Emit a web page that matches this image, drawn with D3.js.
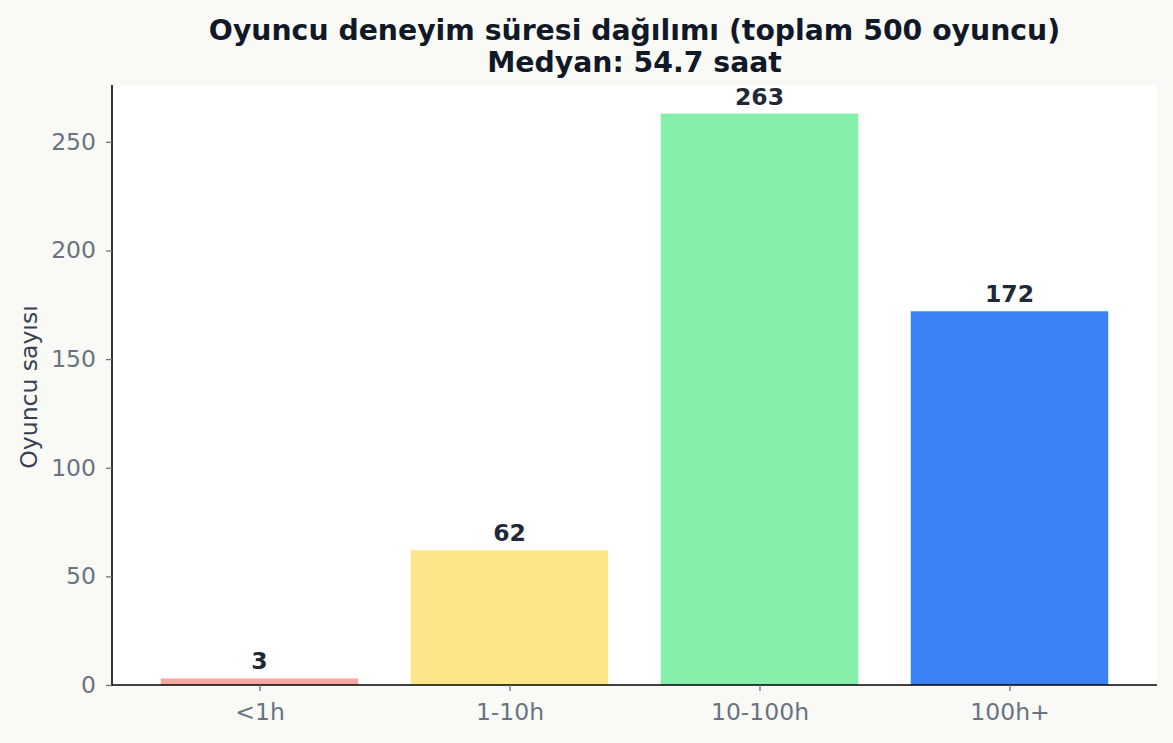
<!DOCTYPE html>
<html>
<head>
<meta charset="utf-8">
<script src="https://cdn.jsdelivr.net/npm/d3@7"></script>
<style>
  html, body { margin: 0; padding: 0; background: #f9faf5; }
  svg { display: block; }
</style>
</head>
<body>
<script>
const categories = ["<1h", "1-10h", "10-100h", "100h+"];
const counts = [3, 62, 263, 172];
const colors = ["#f7a6a1", "#fde68a", "#86efac", "#3b82f6"];
const yTicks = [0, 50, 100, 150, 200, 250];
const titleLines = ["Oyuncu deneyim süresi dağılımı (toplam 500 oyuncu)", "Medyan: 54.7 saat"];
const yLabel = "Oyuncu sayısı";

const W = 1173, H = 743;
const margin = {left: 112, right: 16, top: 85, bottom: 58};
const font = "'DejaVu Sans', sans-serif";

const svg = d3.select("body").append("svg").attr("width", W).attr("height", H);
svg.append("rect").attr("width", W).attr("height", H).attr("fill", "#f9faf5");

const x0 = margin.left, x1 = W - margin.right, y0 = H - margin.bottom, y1 = margin.top;
const x = d3.scaleLinear().domain([-0.59, categories.length - 1 + 0.59]).range([x0, x1]);
const y = d3.scaleLinear().domain([0, d3.max(counts) * 1.05]).range([y0, y1]);

svg.append("rect").attr("x", x0).attr("y", y1).attr("width", x1 - x0).attr("height", y0 - y1).attr("fill", "#ffffff");

const bw = 0.79;
svg.selectAll("rect.bar").data(counts).enter().append("rect")
  .attr("class", "bar")
  .attr("x", (d, i) => x(i - bw / 2))
  .attr("width", (d, i) => x(bw) - x(0))
  .attr("y", d => y(d))
  .attr("height", d => y(0) - y(d))
  .attr("fill", (d, i) => colors[i]);

svg.selectAll("text.val").data(counts).enter().append("text")
  .attr("class", "val")
  .attr("x", (d, i) => x(i))
  .attr("y", d => y(d) - 9)
  .attr("text-anchor", "middle")
  .attr("font-family", font).attr("font-weight", "bold").attr("font-size", 23.5)
  .attr("fill", "#1f2937")
  .text(d => d);

// axes
const yAxis = d3.axisLeft(y).tickValues(yTicks).tickSize(6).tickPadding(10);
const gy = svg.append("g").attr("transform", `translate(${x0},0)`).call(yAxis);
gy.select(".domain").attr("stroke", "#000").attr("stroke-width", 1.6).attr("d", `M0,${y0}V${y1}`);
gy.selectAll(".tick line").attr("stroke", "#6b7280").attr("stroke-width", 1.3);
gy.selectAll(".tick text").attr("font-family", font).attr("font-size", 23.5).attr("fill", "#6b7280");

const xAxis = d3.axisBottom(x).tickValues(categories.map((c, i) => i)).tickFormat(i => categories[i]).tickSize(6).tickPadding(12);
const gx = svg.append("g").attr("transform", `translate(0,${y0})`).call(xAxis);
gx.select(".domain").attr("stroke", "#000").attr("stroke-width", 1.6).attr("d", `M${x0},0H${x1}`);
gx.selectAll(".tick line").attr("stroke", "#6b7280").attr("stroke-width", 1.3);
gx.selectAll(".tick text").attr("font-family", font).attr("font-size", 23.5).attr("fill", "#6b7280");

svg.append("text")
  .attr("transform", `translate(37,${(y0 + y1) / 2 + 2}) rotate(-90)`)
  .attr("text-anchor", "middle")
  .attr("font-family", font).attr("font-size", 23.5).attr("fill", "#374151")
  .text(yLabel);

svg.selectAll("text.title").data(titleLines).enter().append("text")
  .attr("class", "title")
  .attr("x", (x0 + x1) / 2)
  .attr("y", (d, i) => 40 + i * 32)
  .attr("text-anchor", "middle")
  .attr("font-family", font).attr("font-weight", "bold").attr("font-size", 28.3)
  .attr("fill", "#111827")
  .text(d => d);
</script>
</body>
</html>
